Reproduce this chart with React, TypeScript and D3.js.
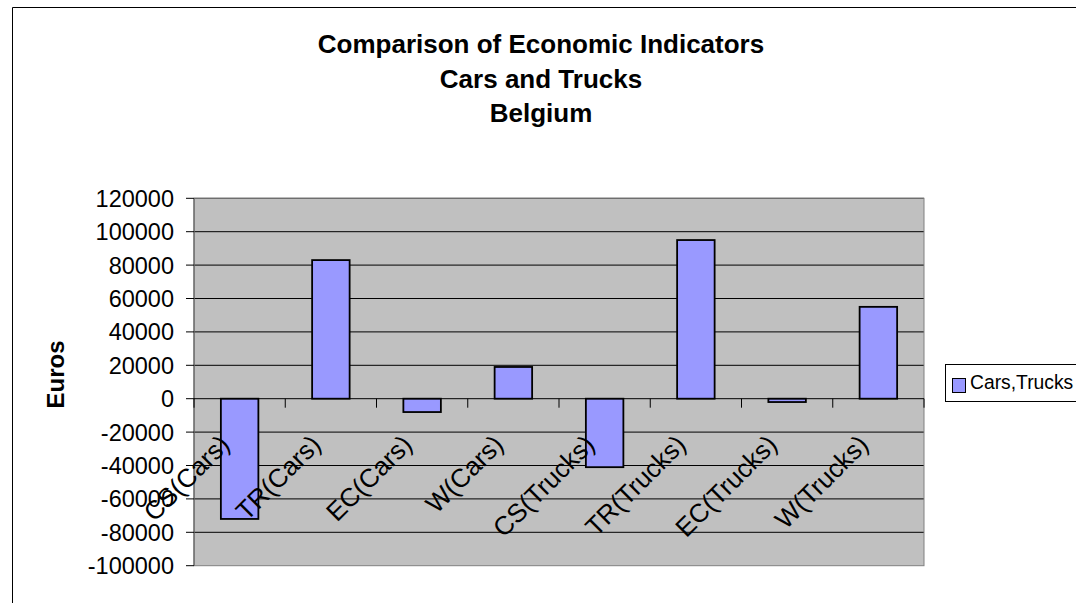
import React from "react";
import * as d3 from "d3";

const categories = [
  "CS(Cars)",
  "TR(Cars)",
  "EC(Cars)",
  "W(Cars)",
  "CS(Trucks)",
  "TR(Trucks)",
  "EC(Trucks)",
  "W(Trucks)",
];
const values = [-72000, 83000, -8000, 19000, -41000, 95000, -2000, 55000];
const yTicks = [120000, 100000, 80000, 60000, 40000, 20000, 0, -20000, -40000, -60000, -80000, -100000];
const titleLines = ["Comparison of Economic Indicators", "Cars and Trucks", "Belgium"];
const seriesName = "Cars,Trucks";
const yTitle = "Euros";

const W = 1076;
const H = 603;
const plot = { left: 194, right: 924, top: 198.3, bottom: 565.7 };
const FONT = "Liberation Sans, Arial, sans-serif";
const BAR_FILL = "#9999ff";

export default function App() {
  const x = d3
    .scaleBand<string>()
    .domain(categories)
    .range([plot.left, plot.right])
    .paddingInner(0.589)
    .paddingOuter(0.2945);
  const y = d3.scaleLinear().domain([-100000, 120000]).range([plot.bottom, plot.top]);
  const step = (plot.right - plot.left) / categories.length;
  const y0 = y(0);

  return (
    <svg
      width={W}
      height={H}
      style={{ position: "absolute", left: 0, top: 0, background: "#fff" }}
      fontFamily={FONT}
    >
      {/* outer chart frame */}
      <line x1={12.5} y1={7.5} x2={W} y2={7.5} stroke="#000" strokeWidth={1} />
      <line x1={12.5} y1={7.5} x2={12.5} y2={H} stroke="#000" strokeWidth={1} />

      {/* title */}
      <g fontWeight="bold" fontSize={26} textAnchor="middle">
        {titleLines.map((t, i) => (
          <text key={t} x={541} y={53 + i * 34.5}>
            {t}
          </text>
        ))}
      </g>

      {/* plot area */}
      <rect
        x={plot.left}
        y={plot.top}
        width={plot.right - plot.left}
        height={plot.bottom - plot.top}
        fill="#c0c0c0"
      />
      {yTicks
        .filter((v) => v !== -100000 && v !== 0)
        .map((v) => (
          <line
            key={v}
            x1={plot.left}
            x2={plot.right}
            y1={y(v)}
            y2={y(v)}
            stroke="#000"
            strokeWidth={1}
          />
        ))}
      <rect
        x={plot.left}
        y={plot.top}
        width={plot.right - plot.left}
        height={plot.bottom - plot.top}
        fill="none"
        stroke="#808080"
        strokeWidth={1}
      />

      {/* bars */}
      {values.map((v, i) => (
        <rect
          key={categories[i]}
          x={x(categories[i])}
          y={Math.min(y(v), y0)}
          width={x.bandwidth()}
          height={Math.abs(y(v) - y0)}
          fill={BAR_FILL}
          stroke="#000"
          strokeWidth={1.8}
        />
      ))}

      {/* value axis */}
      <line x1={plot.left} x2={plot.left} y1={plot.top} y2={plot.bottom} stroke="#555" strokeWidth={1} />
      {yTicks.map((v) => (
        <g key={v}>
          <line x1={plot.left - 8} x2={plot.left} y1={y(v)} y2={y(v)} stroke="#000" strokeWidth={1} />
          <text x={174} y={y(v)} dy="0.36em" textAnchor="end" fontSize={23.5}>
            {v}
          </text>
        </g>
      ))}

      {/* category axis at zero */}
      <line x1={plot.left} x2={plot.right} y1={y0} y2={y0} stroke="#000" strokeWidth={1} />
      {d3.range(categories.length + 1).map((i) => (
        <line
          key={i}
          x1={plot.left + i * step}
          x2={plot.left + i * step}
          y1={y0}
          y2={y0 + 9}
          stroke="#000"
          strokeWidth={1}
        />
      ))}
      {categories.map((c) => {
        const cx = (x(c) as number) + x.bandwidth() / 2;
        const ax = cx - 8.5;
        const ay = y0 + 47.5;
        return (
          <text
            key={c}
            x={ax}
            y={ay}
            fontSize={26}
            textAnchor="end"
            transform={`rotate(-45 ${ax} ${ay})`}
          >
            {c}
          </text>
        );
      })}

      {/* axis title */}
      <text
        x={64}
        y={374.5}
        fontSize={24}
        fontWeight="bold"
        textAnchor="middle"
        transform="rotate(-90 64 374.5)"
      >
        {yTitle}
      </text>

      {/* legend */}
      <rect x={945.5} y={364.5} width={160} height={37} fill="#fff" stroke="#000" strokeWidth={1} />
      <rect x={952.5} y={378.5} width={13} height={14} fill={BAR_FILL} stroke="#000" strokeWidth={1} />
      <text x={970} y={388.5} fontSize={19.3}>
        {seriesName}
      </text>
    </svg>
  );
}
